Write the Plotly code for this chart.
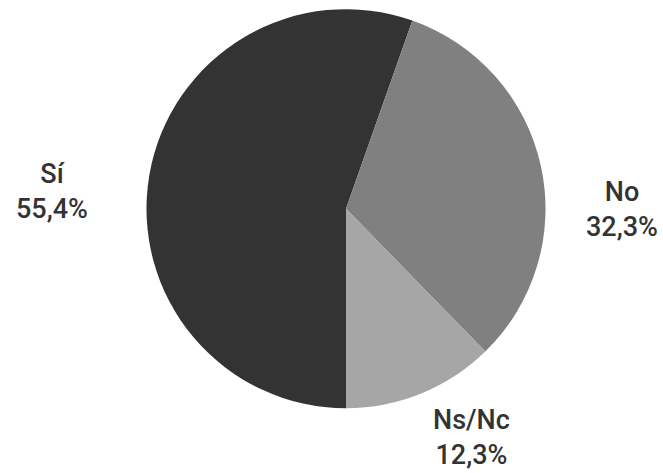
import plotly.graph_objects as go

labels = ["Sí", "No", "Ns/Nc"]
values = [55.4, 32.3, 12.3]
value_text = ["55,4%", "32,3%", "12,3%"]
colors = ["#333333", "#808080", "#a6a6a6"]

W, H = 663, 473
cx, cy, r = 346, 208.7, 199.5

fig = go.Figure(go.Pie(
    labels=labels, values=values, sort=False, direction="clockwise",
    rotation=180, marker=dict(colors=colors, line=dict(width=0)),
    textinfo="none", hoverinfo="label+percent", showlegend=False,
    domain=dict(x=[(cx - r) / W, (cx + r) / W], y=[1 - (cy + r) / H, 1 - (cy - r) / H]),
))

# label anchor positions (pixels) for each category
label_pos = {"Sí": (52, 192), "No": (622, 210), "Ns/Nc": (471, 437)}
for lab, txt in zip(labels, value_text):
    px, py = label_pos[lab]
    fig.add_annotation(
        x=px / W, y=1 - py / H, xref="paper", yref="paper",
        xanchor="center", yanchor="middle",
        text=f"{lab}<br>{txt}", showarrow=False, align="center",
        font=dict(family="Roboto, Arial", size=27, color="#333333", weight=500),
    )

fig.update_layout(width=W, height=H, margin=dict(l=0, r=0, t=0, b=0),
                  paper_bgcolor="white", plot_bgcolor="white")
fig.write_html("out.html", config={"displayModeBar": False},
               post_script="document.body.style.margin='0';document.body.style.padding='0';")
